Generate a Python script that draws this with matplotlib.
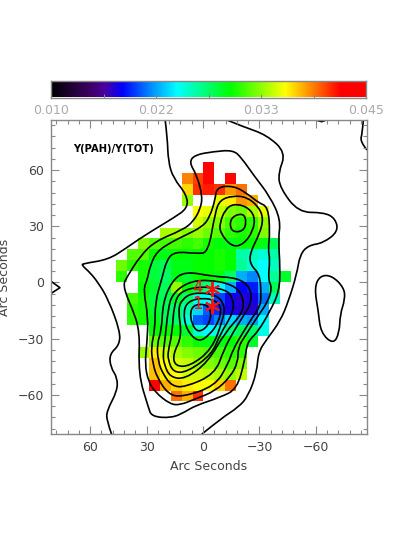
import numpy as np
import matplotlib
matplotlib.use('Agg')
import matplotlib.pyplot as plt
from matplotlib.colors import LinearSegmentedColormap
from matplotlib.path import Path
from matplotlib.patches import PathPatch

# ratio map, units of 1e-3, 0 = no data. rows top to bottom, columns east to west
ratio = [
    [0, 0, 0, 0, 0, 0, 0, 0, 42, 0, 0, 0, 0, 0, 0, 0],
    [0, 0, 0, 0, 0, 0, 39, 40.5, 42, 0, 42, 0, 0, 0, 0, 0],
    [0, 0, 0, 0, 0, 0, 37, 41, 41.5, 41, 38.5, 39.5, 0, 0, 0, 0],
    [0, 0, 0, 0, 0, 0, 33.5, 0, 0, 35.5, 36.5, 38.5, 38, 0, 0, 0],
    [0, 0, 0, 0, 0, 0, 0, 36, 35.5, 34.5, 33, 32.5, 34, 35.5, 0, 0],
    [0, 0, 0, 0, 0, 0, 0, 35, 33.5, 33, 31.5, 31, 31, 33.5, 0, 0],
    [0, 0, 0, 0, 34, 34, 33, 33.5, 32.5, 32, 31, 30.5, 31, 33, 0, 0],
    [0, 0, 33, 32, 31.5, 31.5, 31, 31.5, 30.5, 29.8, 29.5, 30, 30, 29.5, 28, 0],
    [0, 32, 32, 30, 29.5, 30, 29.8, 30, 30, 30.5, 30, 26, 25.5, 25, 26, 0],
    [32.5, 31, 30.5, 28.5, 28, 29.5, 29.5, 30, 30, 30.5, 30, 26.5, 25, 24, 25.5, 0],
    [31, 0, 30.5, 28.5, 27.5, 29.5, 29, 30, 30, 29.5, 27.5, 22, 21, 24, 26.5, 29],
    [0, 0, 30, 29, 28, 33.5, 30, 28, 27, 24, 22, 18, 18.5, 22, 28, 0],
    [0, 31.5, 30.5, 28.5, 28, 29, 27.5, 24.5, 24, 19.5, 17.5, 17, 17.5, 20.5, 25.5, 0],
    [0, 31, 30.5, 29, 28, 27.5, 26, 23, 20, 19, 17.5, 17, 17, 22, 0, 0],
    [0, 31, 30.5, 29.5, 28, 27.5, 25, 20, 19.5, 21, 23, 22, 21.5, 24, 0, 0],
    [0, 0, 0, 30, 30, 30, 29, 25, 24, 25, 27, 28, 27.5, 24.5, 0, 0],
    [0, 0, 0, 32.5, 32, 32, 31, 30, 29.5, 29.5, 30, 31, 29, 0, 0, 0],
    [0, 0, 33.5, 36.5, 35, 34, 33, 32.5, 32, 31.5, 31, 31, 0, 0, 0, 0],
    [0, 0, 0, 37.5, 36, 35, 34.5, 33.5, 33, 32.5, 32, 33, 0, 0, 0, 0],
    [0, 0, 0, 37.5, 36.5, 36, 35, 35, 34.5, 34, 33.5, 34.5, 0, 0, 0, 0],
    [0, 0, 0, 42.5, 38, 37, 36.5, 36, 36, 37, 39.5, 0, 0, 0, 0, 0],
    [0, 0, 0, 0, 0, 39.5, 38, 41, 0, 0, 0, 0, 0, 0, 0, 0],
]

# contour traces in arc seconds (x, y)
outer_left = [(20.2, 87.2), (19, 77.8), (18.5, 64.5), (15.8, 55.7), (8.7, 46.8), (8.1, 39.7), (15.8, 34.4),
              (24.6, 29.1), (34.4, 22.9), (40.6, 18.5), (50.4, 12.2), (63.7, 10.1), (64.5, 9.2), (60.1, 5.3),
              (55.7, -0.2), (50.4, -9), (44.1, -25.9), (44.5, -33.4), (49.8, -38.3), (49.1, -45.4), (45.6, -50.7),
              (45.6, -57.8), (51.2, -68.5), (51.2, -73.8), (48.6, -81)]
outer_right = [(0.7, -81), (-9.9, -72.3), (-18.8, -66.6), (-24.1, -60.5), (-28.6, -47.9), (-29.4, -37.2),
               (-33.9, -30.3), (-41, -20.7), (-45.4, -10.1), (-49.8, 4.3), (-51.6, 14.9), (-56, 19.8), (-64, 21.1),
               (-72, 27.3), (-70.2, 34.4), (-64, 37.4), (-50.7, 37.4), (-41, 50.4), (-40, 58.4), (-44.1, 69.3),
               (-33.9, 78.7), (-21.4, 83.1), (-11.7, 87.1)]
top_nick = [(-56.9, 87.6), (-63.1, 85.8), (-66.6, 87.1)]
corner = [(-85.3, 87.2), (-84.7, 79.6), (-83.5, 75.2), (-87.2, 70.7)]
notch = [(80.9, 0.7), (76.1, -2.8), (80.9, -5.9)]
open_lines = [outer_left, outer_right, corner]
sharp_lines = [top_nick, notch]

island = [(-62.2, 3.7), (-68.5, 3.7), (-75, -2.8), (-75.5, -9), (-72.9, -17), (-72.5, -26.8), (-69.3, -33),
          (-62.6, -26.8), (-61.3, -15.3), (-59.2, -2.8)]
level2 = [(7.4, 64.2), (4.3, 68.1), (-5.3, 69.8), (-16.1, 70.7), (-20.6, 66.3), (-26.8, 57.4), (-35.6, 45.9),
          (-41.3, 33.5), (-40, 22.9), (-41, 8.7), (-40.6, -4.6), (-35.6, -15.4), (-29.3, -26.1), (-25, -30.3),
          (-23.2, -34), (-22.3, -41), (-18.1, -56.9), (-9, -61.3), (4.3, -65.8), (9.6, -69.1), (16.6, -72.3),
          (27.3, -71.6), (29.1, -66.6), (34.4, -48.9), (33.5, -25.9), (37.9, -13.3), (40.3, -8), (42.4, -1.1),
          (40.6, 2.7), (33.5, 14), (25.5, 22), (10.5, 28.2), (5.2, 32.6), (1.6, 38.8), (0.2, 45.9), (3.4, 57.4)]
level3 = [(-7.3, 50.9), (-16.1, 51.6), (-23.2, 47.7), (-29.4, 42.6), (-34.6, 40.4), (-35.6, 26.6), (-34.6, 17.6),
          (-35.6, 12.2), (-34.6, 1.6), (-36.7, -2.7), (-34.6, -10.1), (-28.7, -18.6), (-22.3, -28.7), (-18.6, -34.6),
          (-18.6, -42.6), (-14.4, -50.5), (-6.4, -58), (4.3, -62.2), (12.2, -65.4), (17.6, -64.9), (25.5, -58.5),
          (29.1, -52.7), (30.9, -43.6), (29.9, -33), (29.1, -18.6), (31.8, -3.7), (29.6, 1.6), (28.2, 8.7),
          (24.6, 16.6), (16, 22), (10.6, 24.6), (0, 29.9), (-3.7, 35.3), (-6.4, 44.1)]
level4 = [(-16.1, 46.3), (-23.2, 45.6), (-29.4, 40.6), (-32.1, 34.4), (-30.3, 26.4), (-25, 16), (-25, 9.6),
          (-30.3, 4.3), (-30.9, -7.4), (-30.3, -12.8), (-26.6, -18.1), (-21.3, -26.6), (-16, -35.6), (-13.3, -43.6),
          (-6.4, -55.3), (11.2, -61.2), (18.6, -59.6), (24.5, -50.5), (26.6, -43.6), (27.7, -34.6), (25.5, -25),
          (25.5, -10.6), (22, 1.6), (19.3, 12.2), (14.9, 16.5), (3.2, 15.4), (-2.8, 16), (-6.4, 37.2), (-9, 44.1)]
level5 = [(9.6, 6), (-5.3, 3.2), (-17.9, 2.5), (-25, -2.1), (-25.9, -10.6), (-21.3, -18.1), (-16, -26.6),
          (-11.2, -35.6), (-6.4, -48.9), (9.6, -55.9), (16.5, -55.3), (21.3, -48.9), (23.9, -42), (24.5, -33),
          (22, -25), (21.3, -10.6), (16.6, 0.7)]
level6 = [(-2, 1.6), (-16.1, -1.1), (-21.4, -7.3), (-21.4, -16.1), (-11.7, -26.6), (-2.6, -42.6), (9.6, -51.6),
          (17.6, -50.5), (20.7, -43.6), (21.3, -38.3), (20.2, -30.3), (18.6, -14.4), (16.5, -6.4), (8.5, 0)]
level7 = [(1.6, -2), (-12.6, -3.7), (-16.1, -9), (-16.1, -16.1), (-9, -27.7), (-4.8, -38.3), (8.5, -47.9),
          (16, -47.9), (18.6, -41), (18.6, -36.7), (16.5, -27.7), (15.4, -11.7), (12.2, -4.8)]
level8 = [(5.3, -5.3), (-7.3, -6.4), (-11.7, -12.6), (-10.6, -19.7), (-4.8, -35.6), (6.9, -44.7), (14.9, -44.7),
          (16, -38.3), (11.2, -28.7), (13.3, -14.4), (11.2, -9)]
level9 = [(10.5, -15.3), (9, -25), (2.5, -32.1), (-3.7, -27.7), (-8.1, -21.4), (-9.9, -14.2), (-7.3, -9.9),
          (-0.2, -8.1), (7.8, -9.9)]
level10 = [(6.9, -15.3), (6, -22.3), (2.5, -26.8), (-2.8, -23.2), (-4.6, -16.1), (-2, -11.7), (4.3, -11.7)]
peak_a = [(-16, 42), (-23.2, 40.6), (-27.7, 35.3), (-26.6, 27.3), (-21.4, 20.2), (-15.3, 19), (-9, 26.6),
          (-9, 31.9), (-11.7, 38.8)]
peak_b = [(-14.4, 34.6), (-21.3, 37.2), (-23.2, 32.4), (-21.3, 27.1), (-14.7, 27.1)]
closed_lines = [island, level2, level3, level4, level5, level6, level7, level8, level9, level10, peak_a, peak_b]

star_x = [-4.6, -4.6]
star_y = [-3.7, -12.6]
star_names = ['4', '1']

x_ticks = [60, 30, 0, -30, -60]
y_ticks = [60, 30, 0, -30, -60]
bar_labels = ['0.010', '0.022', '0.033', '0.045']
vmin, vmax = 0.010, 0.045

cmap = LinearSegmentedColormap.from_list('idl', [
    (0, '#000000'), (0.12, '#3c0060'), (0.17, '#4a00a0'), (0.226, '#0000ff'), (0.32, '#0090ff'), (0.40, '#00ffff'),
    (0.57, '#00ff00'), (0.745, '#ffff00'), (0.92, '#ff0000'), (1, '#ff0000')])
cmap.set_bad('white')


def curve(pts, closed):
    # quadratic curve through the midpoints, the read points are the control points
    pts = [np.array(p, dtype=float) for p in pts]
    if closed:
        verts = [(pts[-1] + pts[0]) / 2]
        codes = [Path.MOVETO]
        for i, p in enumerate(pts):
            verts += [p, (p + pts[(i + 1) % len(pts)]) / 2]
            codes += [Path.CURVE3, Path.CURVE3]
    else:
        verts = [pts[0]]
        codes = [Path.MOVETO]
        for i in range(1, len(pts) - 1):
            end = (pts[i] + pts[i + 1]) / 2 if i < len(pts) - 2 else pts[-1]
            verts += [pts[i], end]
            codes += [Path.CURVE3, Path.CURVE3]
    return Path(verts, codes)


W, H = 407, 540
axis_c = '#888888'
text_c = '#444444'
fig = plt.figure(figsize=(W / 100, H / 100), dpi=100)
ax = fig.add_axes([51 / W, 1 - 434 / H, 316 / W, 314 / H])

grid = np.array(ratio) / 1000
grid = np.ma.masked_equal(grid, 0)
x_edges = np.linspace(46.1, -46.6, grid.shape[1] + 1)
y_edges = np.linspace(64.1, -63.5, grid.shape[0] + 1)
ax.pcolormesh(x_edges, y_edges, grid, cmap=cmap, vmin=vmin, vmax=vmax)

for pts in open_lines:
    ax.add_patch(PathPatch(curve(pts, False), fc='none', ec='black', lw=1.2))
for pts in closed_lines:
    ax.add_patch(PathPatch(curve(pts, True), fc='none', ec='black', lw=1.2))
for pts in sharp_lines:
    ax.plot(*zip(*pts), color='black', lw=1.2)

ax.plot(star_x, star_y, linestyle='None', marker=(6, 2, 0), ms=11, mew=1.4, color='#ff1010')
for sx, sy, name in zip(star_x, star_y, star_names):
    ax.text(sx + 7.5, sy + 1, name, color='#ff1010', fontsize=12, ha='center', va='center')

ax.set_xlim(80.85, -87.2)
ax.set_ylim(-80.85, 86.7)
ax.set_xticks(x_ticks)
ax.set_xticklabels([str(v).replace('-', '\u2212') for v in x_ticks])
ax.set_yticks(y_ticks)
ax.set_yticklabels([str(v).replace('-', '\u2212') for v in y_ticks])
ax.set_xticks(np.arange(-84, 80, 6), minor=True)
ax.set_yticks(np.arange(-78, 85, 6), minor=True)
ax.tick_params(which='major', direction='in', length=6, width=0.8, color=axis_c, top=True, right=True,
               labelsize=9, labelcolor=text_c, pad=5)
ax.tick_params(which='minor', direction='in', length=3, width=0.8, color=axis_c, top=True, right=True)
for s in ax.spines.values():
    s.set_color(axis_c)
    s.set_linewidth(1.0)
ax.set_xlabel('Arc Seconds', fontsize=9, color=text_c, labelpad=4)
fig.text(5 / W, 1 - 277 / H, 'Arc Seconds', rotation=90, fontsize=9, color=text_c, ha='center', va='center')
fig.text(73 / W, 1 - 149 / H, 'Y(PAH)/Y(TOT)', fontsize=7.2, fontweight='bold', color='black', va='center')

cax = fig.add_axes([51 / W, 1 - 97.5 / H, 315 / W, 16.5 / H])
ramp = np.linspace(vmin, vmax, 256)[None, :]
cax.imshow(ramp, aspect='auto', cmap=cmap, vmin=vmin, vmax=vmax, extent=[0, 1, 0, 1])
cax.set_yticks([])
cax.set_xticks(np.arange(1, 6) / 6)
cax.set_xticklabels([])
cax.tick_params(direction='in', length=3, width=0.8, color=axis_c, top=False)
for s in cax.spines.values():
    s.set_color(axis_c)
    s.set_linewidth(1.0)
for frac, lab in zip(np.linspace(0, 1, len(bar_labels)), bar_labels):
    fig.text((51 + 315 * frac) / W, 1 - 110 / H, lab, fontsize=9, color='#aaaaaa', ha='center', va='center')

fig.savefig('out.png', dpi=100)
